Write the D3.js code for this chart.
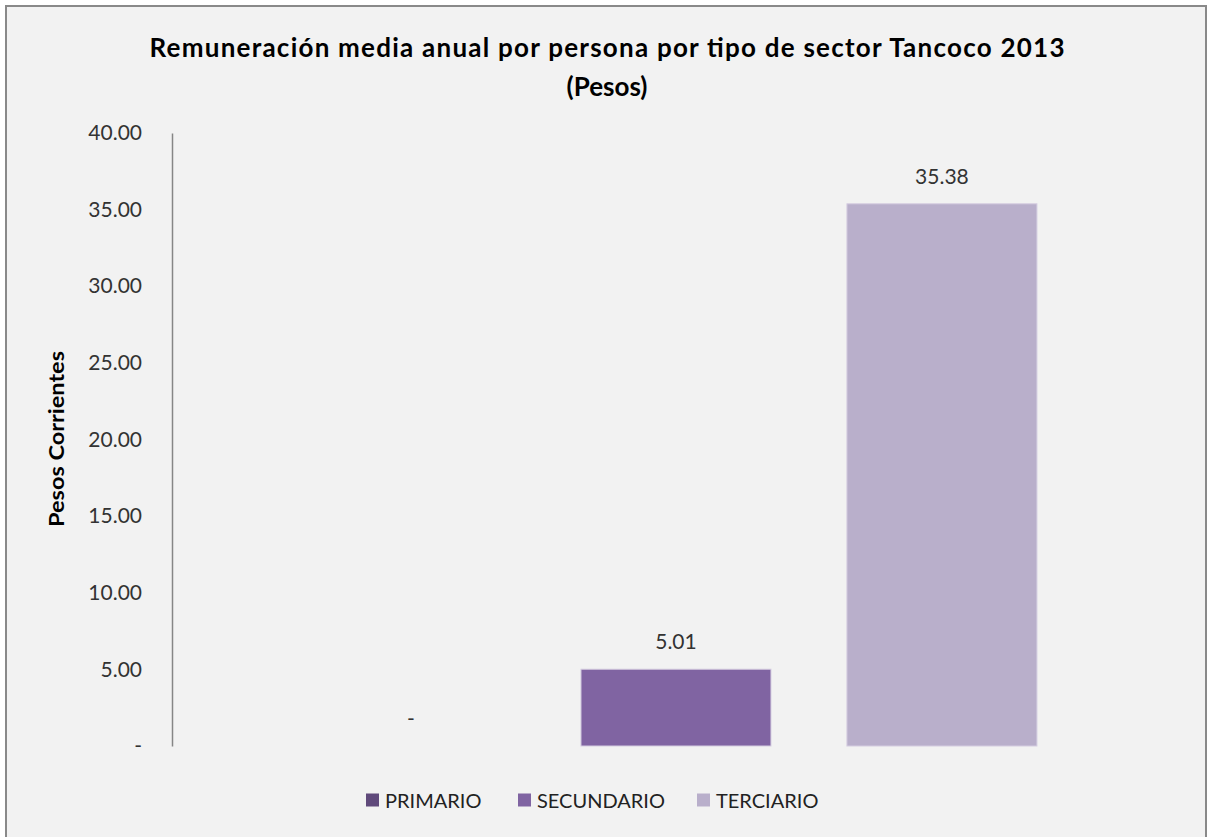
<!DOCTYPE html>
<html><head><meta charset="utf-8">
<script src="https://cdn.jsdelivr.net/npm/d3@7"></script>
<style>
html,body{margin:0;padding:0;background:#fff;}
svg{display:block;}
text{font-family:Lato,"Open Sans",sans-serif;}
</style></head>
<body>
<script>
const categories = ["PRIMARIO", "SECUNDARIO", "TERCIARIO"];
const values = [0, 5.01, 35.38];
const labels = ["-", "5.01", "35.38"];
const colors = ["#604a7b", "#8064a2", "#b9afcb"];
const yTicks = [0, 5, 10, 15, 20, 25, 30, 35, 40];
const titleLines = ["Remuneración media anual por persona por tipo de sector Tancoco 2013", "(Pesos)"];
const yTitle = "Pesos Corrientes";

const W = 1208, H = 837;
const svg = d3.select("body").append("svg").attr("width", W).attr("height", H);

svg.append("rect").attr("x", 0).attr("y", 0).attr("width", W).attr("height", H).attr("fill", "#ffffff");
svg.append("rect").attr("x", 6).attr("y", 6).attr("width", 1200).attr("height", 840)
  .attr("fill", "#f2f2f2").attr("stroke", "#898989").attr("stroke-width", 2);

const y = d3.scaleLinear().domain([0, 40]).range([746, 133]);
const x = d3.scaleBand().domain(categories).range([172, 1170])
  .paddingInner(0.2857).paddingOuter(0.519).align(0.518);

// title
const title = svg.append("text").attr("text-anchor", "middle").attr("font-weight", "bold")
  .attr("font-size", 26).attr("fill", "#000");
title.append("tspan").attr("x", 607).attr("y", 57).attr("textLength", 915)
  .attr("lengthAdjust", "spacing").text(titleLines[0]);
title.append("tspan").attr("x", 607).attr("y", 96).text(titleLines[1]);

// y axis
const yAxis = d3.axisLeft(y).tickValues(yTicks).tickSize(0).tickPadding(30)
  .tickFormat(d => d === 0 ? "-" : d3.format(".2f")(d));
const gy = svg.append("g").attr("transform", "translate(172,0)").call(yAxis);
gy.select(".domain").attr("stroke", "#868686").attr("stroke-width", 1.5);
gy.selectAll("text").attr("font-size", 21).attr("fill", "#333").attr("font-family", "Lato, 'Open Sans', sans-serif");

svg.append("text").attr("transform", "translate(64,439) rotate(-90)")
  .attr("text-anchor", "middle").attr("font-weight", "bold").attr("font-size", 20)
  .attr("textLength", 176).attr("lengthAdjust", "spacingAndGlyphs")
  .attr("fill", "#000").text(yTitle);

// bars
svg.selectAll("rect.bar").data(categories).enter().append("rect").attr("class", "bar")
  .attr("x", d => x(d)).attr("width", x.bandwidth())
  .attr("y", (d, i) => y(values[i])).attr("height", (d, i) => y(0) - y(values[i]))
  .attr("fill", (d, i) => colors[i])
  .attr("stroke", "#d4cce0").attr("stroke-width", (d, i) => values[i] > 0 ? 1 : 0);

svg.selectAll("text.lbl").data(categories).enter().append("text").attr("class", "lbl")
  .attr("x", (d, i) => x(d) + x.bandwidth() / 2 + (labels[i] === "-" ? 1 : 0))
  .attr("y", (d, i) => y(values[i]) - 20)
  .attr("text-anchor", "middle").attr("font-size", 21).attr("fill", "#333")
  .text((d, i) => labels[i]);

// legend
const legendX = [366, 518, 697];
const lg = svg.selectAll("g.leg").data(categories).enter().append("g").attr("class", "leg")
  .attr("transform", (d, i) => `translate(${legendX[i]},800)`);
lg.append("rect").attr("x", 0).attr("y", -6.5).attr("width", 13).attr("height", 13)
  .attr("fill", (d, i) => colors[i]);
lg.append("text").attr("x", 19).attr("y", 7.5).attr("font-size", 20).attr("fill", "#222").text(d => d);
</script>
</body></html>
